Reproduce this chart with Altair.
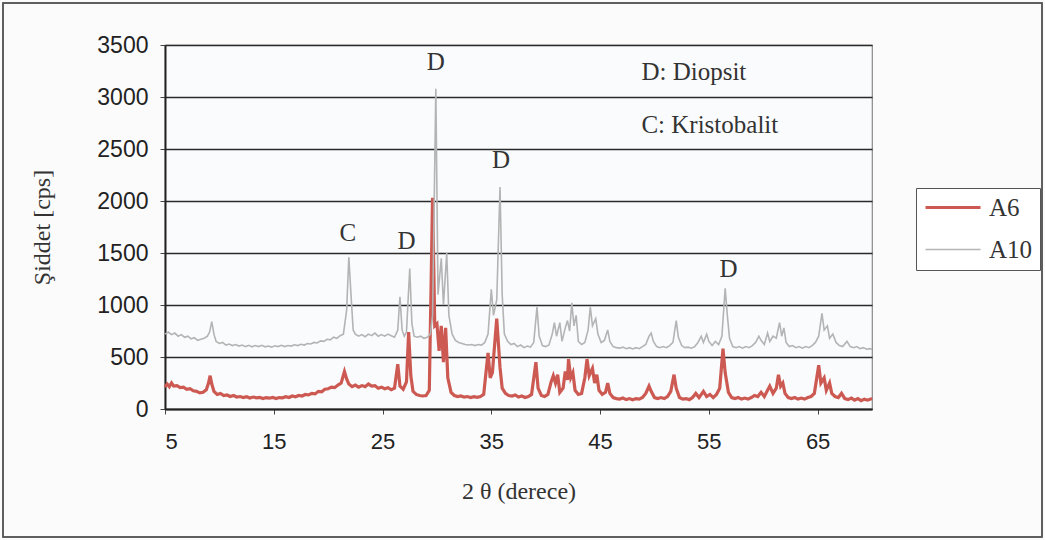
import altair as alt
import pandas as pd

# A10 diffraction pattern (2 theta in degrees, intensity in cps)
x_a10 = [5.0, 5.3, 5.6, 5.9, 6.2, 6.5, 6.8, 7.1, 7.4, 7.7, 8.0, 8.3, 8.6, 8.9, 9.1, 9.3, 9.5, 9.7,
         10.0, 10.3, 10.6, 10.9, 11.2, 11.5, 11.8, 12.1, 12.4, 12.7, 13.0, 13.3, 13.6, 13.9, 14.2,
         14.5, 14.8, 15.1, 15.4, 15.7, 16.0, 16.3, 16.6, 16.9, 17.2, 17.5, 17.8, 18.1, 18.4, 18.7,
         19.0, 19.3, 19.6, 19.9, 20.2, 20.5, 20.8, 21.1, 21.4, 21.7, 21.9, 22.1, 22.3, 22.5, 22.8,
         23.1, 23.4, 23.7, 24.0, 24.3, 24.6, 24.9, 25.2, 25.5, 25.8, 26.1, 26.4, 26.6, 26.8, 27.0,
         27.2, 27.5, 27.7, 27.9, 28.2, 28.5, 28.8, 29.1, 29.4, 29.6, 29.9, 30.1, 30.4, 30.6, 30.9,
         31.1, 31.4, 31.7, 32.0, 32.3, 32.6, 32.9, 33.2, 33.5, 33.8, 34.1, 34.4, 34.7, 35.0, 35.2,
         35.5, 35.8, 36.0, 36.2, 36.5, 36.8, 37.1, 37.4, 37.7, 38.0, 38.3, 38.6, 38.9, 39.2, 39.4,
         39.7, 40.0, 40.3, 40.6, 40.8, 41.0, 41.3, 41.5, 41.8, 42.0, 42.2, 42.4, 42.6, 42.8, 43.0,
         43.3, 43.6, 43.9, 44.1, 44.3, 44.6, 44.8, 45.1, 45.4, 45.7, 45.9, 46.2, 46.5, 46.8, 47.1,
         47.4, 47.7, 48.0, 48.3, 48.6, 48.9, 49.2, 49.5, 49.7, 49.9, 50.2, 50.5, 50.8, 51.1, 51.4,
         51.7, 52.0, 52.2, 52.5, 52.8, 53.1, 53.4, 53.7, 54.0, 54.3, 54.5, 54.8, 55.0, 55.3, 55.6,
         55.9, 56.2, 56.5, 56.7, 56.9, 57.2, 57.5, 57.8, 58.1, 58.4, 58.7, 59.0, 59.3, 59.6, 59.8,
         60.1, 60.4, 60.6, 60.9, 61.2, 61.5, 61.7, 61.9, 62.1, 62.4, 62.7, 63.0, 63.3, 63.6, 63.9,
         64.2, 64.5, 64.8, 65.1, 65.4, 65.6, 65.9, 66.1, 66.4, 66.7, 67.0, 67.3, 67.7, 68.0, 68.3,
         68.6, 68.9, 69.2, 69.5, 69.8, 70.0]
y_a10 = [720, 740, 715, 730, 700, 715, 690, 700, 675, 685, 660, 670, 680, 700, 740, 840, 720, 650,
         630, 640, 615, 625, 610, 620, 605, 615, 600, 612, 598, 610, 600, 612, 598,
         605, 595, 608, 600, 612, 600, 610, 605, 618, 610, 622, 615, 630, 625, 640,
         635, 655, 650, 670, 665, 690, 680, 705, 720, 950, 1460, 1100, 760, 720, 700,
         715, 695, 720, 705, 730, 700, 715, 700, 720, 705, 690, 760, 1080, 760, 700,
         740, 1350, 820, 700, 690, 700, 680, 690, 720, 900, 3080, 1100, 1450, 1000, 1500,
         900, 720, 660, 640, 630, 620, 615, 620, 610, 620, 615, 640, 720, 1150, 900,
         1050, 2135, 1100, 720, 650, 620, 630, 600, 615, 590, 605, 595, 640, 980, 700,
         610, 600, 615, 720, 830, 700, 830, 650, 780, 850, 750, 1020, 800, 900, 650,
         620, 640, 760, 980, 800, 870, 720, 640, 660, 760, 650, 600, 590, 585, 595,
         580, 590, 578, 590, 580, 600, 620, 700, 730, 650, 600, 590, 600, 590, 610,
         640, 850, 690, 610, 590, 595, 585, 600, 640, 700, 640, 720, 650, 610, 650,
         620, 700, 1160, 900, 680, 600, 590, 600, 585, 600, 590, 610, 640, 700, 660,
         620, 730, 650, 700, 680, 830, 700, 780, 640, 600, 610, 590, 600, 585, 600,
         590, 610, 640, 700, 920, 760, 800, 680, 720, 640, 610, 600, 650, 600, 590,
         600, 580, 590, 575, 580, 575]

# A6 diffraction pattern
x_a6 = [5.0, 5.2, 5.4, 5.6, 5.8, 6.1, 6.4, 6.7, 7.0, 7.3, 7.6, 7.9, 8.2, 8.5, 8.8, 9.0, 9.15, 9.3,
        9.5, 9.8, 10.1, 10.4, 10.7, 11.0, 11.3, 11.6, 11.9, 12.2, 12.5, 12.8, 13.1, 13.4, 13.7,
        14.0, 14.3, 14.6, 14.9, 15.2, 15.5, 15.8, 16.1, 16.4, 16.7, 17.0, 17.3, 17.6, 17.9, 18.2,
        18.5, 18.8, 19.1, 19.4, 19.7, 20.0, 20.3, 20.6, 20.9, 21.2, 21.5, 21.7, 21.9, 22.2, 22.5,
        22.8, 23.1, 23.4, 23.7, 24.0, 24.3, 24.6, 24.9, 25.2, 25.5, 25.8, 26.1, 26.4, 26.6, 26.9,
        27.2, 27.4, 27.6, 27.8, 28.1, 28.4, 28.7, 29.0, 29.3, 29.6, 29.8, 30.0, 30.2, 30.4, 30.6,
        30.8, 31.0, 31.3, 31.6, 31.9, 32.2, 32.5, 32.8, 33.1, 33.4, 33.7, 34.0, 34.3, 34.7, 34.9,
        35.1, 35.5, 35.8, 36.0, 36.3, 36.6, 36.9, 37.2, 37.5, 37.8, 38.1, 38.4, 38.7, 39.1, 39.3,
        39.6, 39.9, 40.2, 40.5, 40.7, 40.9, 41.1, 41.3, 41.6, 41.8, 42.0, 42.1, 42.3, 42.5, 42.7,
        43.0, 43.3, 43.6, 43.8, 44.0, 44.3, 44.5, 44.7, 44.9, 45.2, 45.5, 45.7, 45.9, 46.2, 46.5,
        46.8, 47.1, 47.4, 47.7, 48.0, 48.3, 48.6, 48.9, 49.2, 49.5, 49.7, 50.0, 50.3, 50.6, 50.9,
        51.2, 51.5, 51.8, 52.0, 52.3, 52.6, 52.9, 53.2, 53.5, 53.8, 54.1, 54.5, 54.8, 55.1, 55.4,
        55.7, 56.0, 56.3, 56.5, 56.8, 57.1, 57.4, 57.7, 58.0, 58.3, 58.6, 58.9, 59.2, 59.5, 59.8,
        60.1, 60.4, 60.6, 60.9, 61.2, 61.4, 61.6, 61.8, 62.0, 62.3, 62.6, 62.9, 63.2, 63.5, 63.8,
        64.1, 64.4, 64.7, 65.1, 65.3, 65.6, 65.8, 66.1, 66.3, 66.6, 66.9, 67.2, 67.5, 67.8, 68.1,
        68.4, 68.7, 69.0, 69.3, 69.6, 70.0]
y_a6 = [210, 240, 215, 250, 220, 225, 205, 210, 190, 195, 175, 170, 155, 160, 185, 250, 320, 240,
        170, 140, 150, 130, 135, 120, 130, 115, 120, 110, 118, 105, 115, 108, 112,
        100, 110, 104, 112, 100, 110, 108, 118, 110, 125, 118, 130, 125, 140, 135,
        150, 145, 170, 165, 190, 195, 210, 205, 230, 250, 360, 290, 240, 215, 230,
        210, 225, 215, 240, 220, 225, 200, 210, 195, 205, 185, 200, 430, 220, 190,
        260, 740, 320, 170, 140, 130, 125, 130, 180, 2030, 800, 820, 560, 800, 450,
        780, 300, 160, 130, 120, 125, 115, 120, 110, 118, 112, 120, 140, 540, 300,
        350, 870, 400, 200, 150, 130, 125, 135, 115, 125, 110, 120, 140, 450, 200,
        130, 120, 140, 260, 320, 250, 330, 160, 200, 360, 280, 480, 300, 350, 180,
        140, 150, 300, 480, 320, 390, 250, 330, 180, 140, 160, 250, 150, 110, 100,
        95, 105, 90, 100, 88, 100, 95, 110, 150, 220, 170, 110, 100, 110, 100,
        120, 170, 330, 200, 110, 95, 100, 90, 110, 150, 110, 170, 120, 140, 110,
        140, 200, 580, 350, 160, 110, 100, 110, 95, 105, 95, 110, 130, 120, 160,
        120, 180, 220, 150, 200, 330, 220, 250, 150, 110, 100, 110, 95, 105, 95,
        110, 120, 150, 420, 250, 300, 180, 250, 150, 120, 110, 150, 100, 90, 105,
        85, 100, 80, 95, 85, 100]

# Phase markers above the peaks
peak_labels = ["C", "D", "D", "D", "D"]
peak_x = [21.8, 27.2, 29.9, 35.9, 56.8]
peak_y = [1690, 1620, 3340, 2390, 1350]

# Phase key
key_text = ["D: Diopsit", "C: Kristobalit"]
key_x = [48.8, 48.8]
key_y = [3240, 2730]

series = pd.concat([
    pd.DataFrame({"theta": x_a6, "cps": y_a6, "seri": "A6"}),
    pd.DataFrame({"theta": x_a10, "cps": y_a10, "seri": "A10"}),
])
labels = pd.DataFrame({"t": peak_labels, "x": peak_x, "y": peak_y})
keys = pd.DataFrame({"t": key_text, "x": key_x, "y": key_y})

serif = "Liberation Serif, Times New Roman, serif"
sans = "Liberation Sans, Arial, sans-serif"

xs = alt.Scale(domain=[5, 70], nice=False, zero=False)
ys = alt.Scale(domain=[0, 3500], nice=False)

lines = alt.Chart(series).mark_line(strokeJoin="miter").encode(
    x=alt.X("theta:Q", scale=xs,
            axis=alt.Axis(values=[5, 15, 25, 35, 45, 55, 65], title="2 θ (derece)", format="d",
                          grid=False, labelFont=sans, labelFontSize=22, labelPadding=17,
                          labelColor="#222", titleFont=serif, titleFontSize=24,
                          titleFontWeight="normal", titleColor="#333", titlePadding=27,
                          domainColor="#222", domainWidth=2, tickColor="#444", tickSize=5)),
    y=alt.Y("cps:Q", scale=ys,
            axis=alt.Axis(values=[0, 500, 1000, 1500, 2000, 2500, 3000, 3500], format="d",
                          title="Şiddet [cps]", grid=True, gridColor="#2a2a2a", gridWidth=1.6,
                          labelFont=sans, labelFontSize=23, labelPadding=12, labelColor="#222",
                          titleFont=serif, titleFontSize=24, titleFontWeight="normal",
                          titleColor="#333", titlePadding=42,
                          domainColor="#222", domainWidth=2, tickColor="#444", tickSize=5)),
    color=alt.Color("seri:N",
                    scale=alt.Scale(domain=["A6", "A10"], range=["#cc5a52", "#b4b4b4"]),
                    legend=alt.Legend(title=None)),
    strokeWidth=alt.StrokeWidth("seri:N",
                                scale=alt.Scale(domain=["A6", "A10"], range=[3.2, 1.6]),
                                legend=alt.Legend(title=None)),
    order=alt.Order("theta:Q"),
)

marks = alt.Chart(labels).mark_text(font=serif, fontSize=25, color="#333").encode(
    x=alt.X("x:Q", scale=xs), y=alt.Y("y:Q", scale=ys), text="t:N")

key = alt.Chart(keys).mark_text(font=serif, fontSize=25, color="#333", align="left").encode(
    x=alt.X("x:Q", scale=xs), y=alt.Y("y:Q", scale=ys), text="t:N")

frame = alt.Chart(keys).mark_rect(fill=None, stroke="#555", strokeWidth=1.5, clip=False).encode(
    x=alt.value(-162), x2=alt.value(877), y=alt.value(-42), y2=alt.value(492))

chart = alt.layer(frame, lines, marks, key).properties(
    width=707, height=364,
    autosize=alt.AutoSizeParams(type="none"),
    padding={"left": 165, "top": 45, "right": 173, "bottom": 131},
    background="#fbfbfc",
).configure_view(
    stroke="#888", strokeWidth=1.2, fill="#fafbfd"
).configure_legend(
    orient="none", legendX=751, legendY=143,
    strokeColor="#555", padding=7, cornerRadius=0, fillColor="#ffffff",
    symbolType="M-1,0H4.5", symbolSize=400, labelFont=serif, labelFontSize=25,
    labelColor="#333", rowPadding=16, labelOffset=41,
)

chart.save("out.html", embed_options={"renderer": "svg", "actions": False})
